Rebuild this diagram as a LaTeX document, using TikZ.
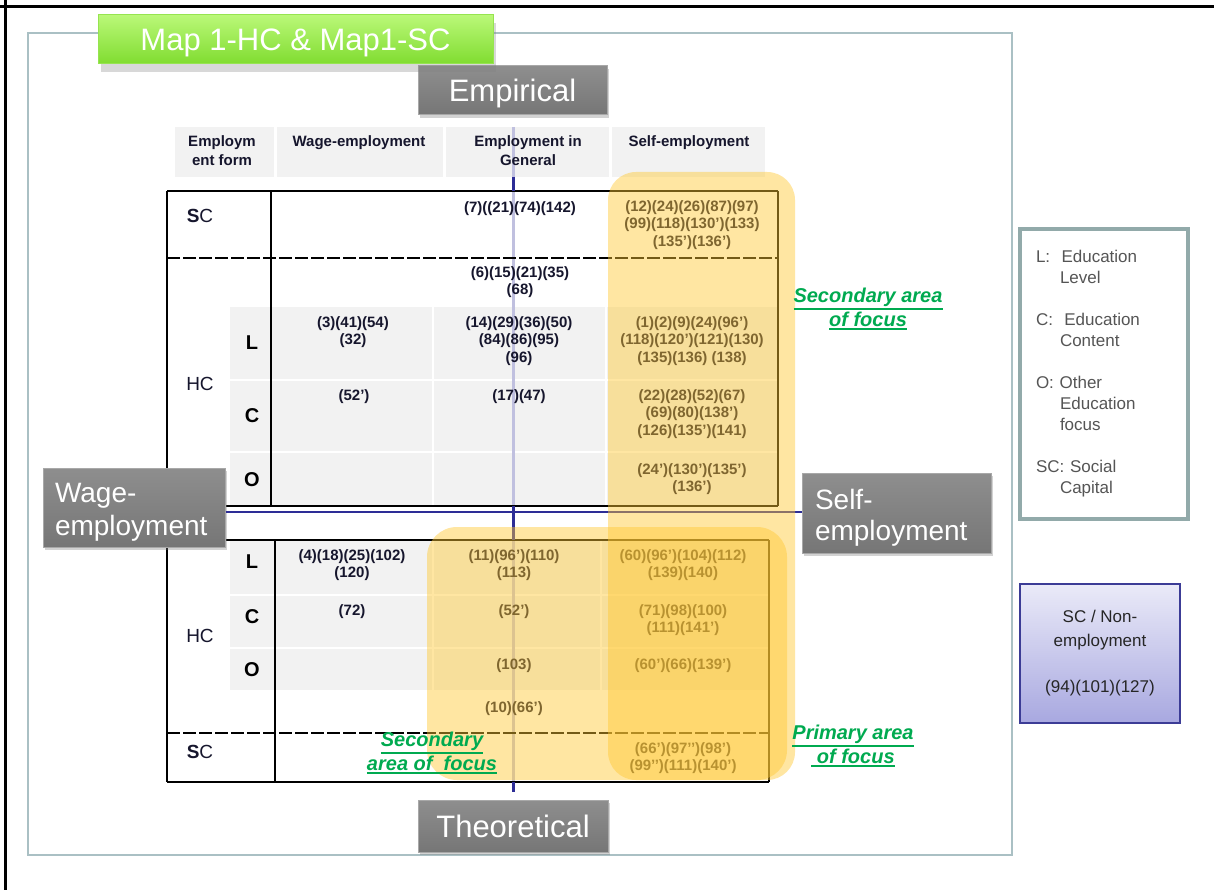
\documentclass[tikz,border=0pt]{standalone}
\usepackage{fontspec}
\setmainfont{Liberation Sans}
\usetikzlibrary{shadows}

\definecolor{framec}{RGB}{170,192,196}
\definecolor{axisc}{RGB}{45,45,150}
\definecolor{cellc}{RGB}{242,242,242}
\definecolor{tabtext}{RGB}{22,22,45}
\definecolor{hilite}{RGB}{255,200,50}
\definecolor{focusc}{RGB}{0,170,80}
\definecolor{legendc}{RGB}{146,170,170}
\definecolor{legtext}{RGB}{85,85,85}
\definecolor{nonemp}{RGB}{60,60,150}
\definecolor{nonemptop}{RGB}{234,234,248}
\definecolor{nonempbot}{RGB}{168,168,224}
\definecolor{boxedge}{RGB}{168,168,168}
\definecolor{boxtop}{RGB}{142,142,142}
\definecolor{boxbot}{RGB}{118,118,118}
\definecolor{titletop}{RGB}{186,248,120}
\definecolor{titlebot}{RGB}{128,220,48}
\definecolor{titleedge}{RGB}{150,228,80}

% underlined focus labels with a heavier rule
\newcommand\focusline[1]{\vtop{\hbox{#1}\kern1.5pt\hrule height 1.6pt}}
% two-line box text, lowered a little inside its box
\newcommand\boxlines[3]{\raisebox{#1}[\height][\depth]{\parbox{#2}{#3}}}

\begin{document}
\begin{tikzpicture}[x=1pt,y=-1pt,
  greybox/.style={draw=boxedge, line width=1pt, top color=boxtop, bottom color=boxbot,
    text=white, inner sep=0pt,
    drop shadow={opacity=0.35,shadow xshift=2pt,shadow yshift=-3pt}},
  tline/.style={black, line width=1.4pt},
  dline/.style={black, line width=1.4pt, dash pattern=on 13pt off 3pt},
  num/.style={font=\fontsize{15}{17.5}\selectfont\bfseries, text=tabtext,
    align=center, inner sep=0pt, anchor=north},
  head/.style={font=\fontsize{15}{19}\selectfont\bfseries, text=tabtext,
    align=center, inner sep=0pt, anchor=north},
  rowlab/.style={font=\fontsize{19}{22}\selectfont, text=tabtext, inner sep=0pt},
  sublab/.style={font=\fontsize{20}{22}\selectfont\bfseries, text=black, inner sep=0pt},
  focus/.style={font=\fontsize{20}{24}\selectfont\bfseries\itshape, text=focusc,
    align=center, inner sep=0pt},
  axis/.style={axisc, line width=2.5pt}
]
\useasboundingbox (0,0) rectangle (1214,890);
\fill[white] (0,0) rectangle (1214,890);

% page border and frame
\draw[black, line width=3pt] (0,7) -- (1214,7);
\draw[black, line width=3pt] (5,0) -- (5,890);
\draw[framec, line width=2pt] (28,33) rectangle (1012,855);

% header cells
\fill[cellc] (175,127) rectangle (274,177);
\fill[cellc] (277,127) rectangle (443,177);
\fill[cellc] (446,127) rectangle (609,177);
\fill[cellc] (612,127) rectangle (765,177);

% shaded cells, upper block
\foreach \ya/\yb in {307/379, 381/451, 453/505}{
  \fill[cellc] (230,\ya) rectangle (270,\yb);
  \fill[cellc] (272,\ya) rectangle (432,\yb);
  \fill[cellc] (434,\ya) rectangle (605,\yb);
  \fill[cellc] (607,\ya) rectangle (777,\yb);
}
% shaded cells, lower block
\foreach \ya/\yb in {541/594, 596/647, 649/690}{
  \fill[cellc] (230,\ya) rectangle (274,\yb);
  \fill[cellc] (276,\ya) rectangle (432,\yb);
  \fill[cellc] (434,\ya) rectangle (600,\yb);
  \fill[cellc] (602,\ya) rectangle (769,\yb);
}

% vertical axis, faded where it crosses the table
\coordinate (axtop) at (513,127);
\coordinate (axbot) at (513,792);
\draw[axis, draw=axisc!30, line width=3pt] (axtop) -- (axbot);

% table rules
\draw[tline] (167,191) -- (778,191);
\draw[tline] (167,191) -- (167,782);
\draw[tline] (271,191) -- (271,506);
\draw[tline] (778,191) -- (778,506);
\draw[dline] (167,258) -- (778,258);
\draw[tline] (167,506) -- (778,506);
\draw[tline] (167,540) -- (769,540);
\draw[tline] (275,540) -- (275,782);
\draw[tline] (769,540) -- (769,782);
\draw[dline] (167,733) -- (769,733);
\draw[tline] (167,782) -- (769,782);

% header texts
\node[head] (h-form) at (222,135) {Employm\\ent form};
\node[head] (h-wage) at (359,135) {Wage-employment};
\node[head] (h-gen)  at (528,135) {Employment in\\General};
\node[head] (h-self) at (689,135) {Self-employment};

% row labels
\node[rowlab] (u-sc) at (200,216) {\textbf{S}C};
\node[rowlab] (u-hc) at (200,384) {HC};
\node[sublab] (u-l) at (252,343) {L};
\node[sublab] (u-c) at (252,416) {C};
\node[sublab] (u-o) at (252,480) {O};
\node[rowlab] (d-hc) at (200,636) {HC};
\node[rowlab] (d-sc) at (200,752) {\textbf{S}C};
\node[sublab] (d-l) at (252,562) {L};
\node[sublab] (d-c) at (252,617) {C};
\node[sublab] (d-o) at (252,670) {O};

% upper block entries
\node[num] (sc-gen)  at (520,201) {(7)((21)(74)(142)};
\node[num] (sc-self) at (692,200) {(12)(24)(26)(87)(97)\\(99)(118)(130’)(133)\\(135’)(136’)};
\node[num] (hc-gen)  at (520,266) {(6)(15)(21)(35)\\(68)};
\node[num] (l-wage)  at (353,316) {(3)(41)(54)\\(32)};
\node[num] (l-gen)   at (519,316) {(14)(29)(36)(50)\\(84)(86)(95)\\(96)};
\node[num] (l-self)  at (692,316) {(1)(2)(9)(24)(96’)\\(118)(120’)(121)(130)\\(135)(136) (138)};
\node[num] (c-wage)  at (354,389) {(52’)};
\node[num] (c-gen)   at (519,389) {(17)(47)};
\node[num] (c-self)  at (692,389) {(22)(28)(52)(67)\\(69)(80)(138’)\\(126)(135’)(141)};
\node[num] (o-self)  at (692,463) {(24’)(130’)(135’)\\(136’)};

% lower block entries
\node[num] (dl-wage) at (352,549) {(4)(18)(25)(102)\\(120)};
\node[num] (dl-gen)  at (514,549) {(11)(96’)(110)\\(113)};
\node[num] (dl-self) at (683,549) {(60)(96’)(104)(112)\\(139)(140)};
\node[num] (dc-wage) at (352,604) {(72)};
\node[num] (dc-gen)  at (514,604) {(52’)};
\node[num] (dc-self) at (683,604) {(71)(98)(100)\\(111)(141’)};
\node[num] (do-gen)  at (514,658) {(103)};
\node[num] (do-self) at (683,658) {(60’)(66)(139’)};
\node[num] (db-gen)  at (514,701) {(10)(66’)};
\node[num] (ds-self) at (683,742) {(66’)(97’’)(98’)\\(99’’)(111)(140’)};

% axes, solid where they run in the open
\draw[axis, line width=3pt] (513,177) -- (513,191);
\draw[axis, line width=3pt] (513,506) -- (513,540);
\draw[axis, line width=3pt] (513,782) -- (axbot);

% axis boxes
\node[greybox, minimum width=182pt, minimum height=79pt,
  font=\fontsize{28}{33}\selectfont] (wage) at (134,507.5)
  {\boxlines{-4.5pt}{158pt}{Wage-\\employment}};
\node[greybox, minimum width=189pt, minimum height=80pt,
  font=\fontsize{28}{31}\selectfont] (self) at (896.5,513)
  {\boxlines{-4.5pt}{163pt}{Self-\\employment}};
\coordinate (hy) at (0,512);
\draw[axis] (wage.east |- hy) -- (self.west |- hy);

% areas of focus
\fill[hilite, opacity=0.45, rounded corners=28pt] (608,172) rectangle (795,780);
\fill[hilite, opacity=0.45, rounded corners=30pt] (427,527) rectangle (787,780);

\node[greybox, minimum width=189pt, minimum height=49pt, text depth=0pt,
  font=\fontsize{31}{34}\selectfont] (emp) at (512.5,90.5) {Empirical};
\node[greybox, minimum width=190pt, minimum height=52pt, text depth=0pt,
  font=\fontsize{31}{34}\selectfont] (theo) at (513,826) {Theoretical};

\node[focus] (sec-up) at (868,309) {\focusline{Secondary area}\\\focusline{of focus}};
\node[focus] (prim)   at (853,746) {\focusline{Primary area}\\\focusline{\ of focus}};
\node[focus] (sec-dn) at (432,753) {\focusline{Secondary}\\\focusline{area of\ \ focus}};

% title
\node[draw=titleedge, line width=1pt, top color=titletop, bottom color=titlebot,
  minimum width=395pt, minimum height=49pt, inner sep=0pt, text=white, text depth=0pt,
  font=\fontsize{31}{34}\selectfont,
  drop shadow={opacity=0.3,shadow xshift=3pt,shadow yshift=-8pt}]
  (title) at (295.5,39.5) {Map 1-HC \& Map1-SC};

% legend
\node[draw=legendc, line width=4.5pt, minimum width=168pt, minimum height=290pt,
  inner sep=0pt, text width=136pt, align=left, text=legtext,
  font=\fontsize{17}{21}\selectfont] (legend) at (1104,374)
  {L:\ \ Education\\\hspace*{24pt}Level\\[21pt]
   C:\ \ Education\\\hspace*{24pt}Content\\[21pt]
   O: Other\\\hspace*{24pt}Education\\\hspace*{24pt}focus\\[21pt]
   SC: Social\\\hspace*{24pt}Capital};

% non-employment box
\node[draw=nonemp, line width=1.5pt, top color=nonemptop, bottom color=nonempbot,
  minimum width=160pt, minimum height=139pt, inner sep=0pt, align=center,
  text=black!85, font=\fontsize{17}{24}\selectfont] (nonempl) at (1100,653.5)
  {SC / Non-\\employment\\[22pt](94)(101)(127)};
\end{tikzpicture}
\end{document}
